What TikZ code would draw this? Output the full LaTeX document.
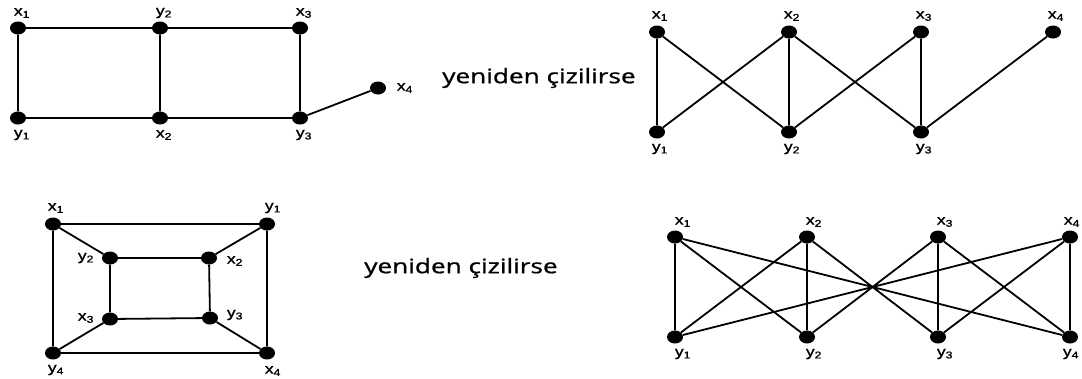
\documentclass[tikz,border=0pt]{standalone}
\usepackage{fontspec}
\setmainfont{Liberation Sans}
\newfontfamily\textfnt[FakeBold=0.8]{Open Sans}
\newfontfamily\lblfnt[FakeBold=1.2]{Liberation Sans}
\usetikzlibrary{shapes.geometric}
\begin{document}
\begin{tikzpicture}[x=1pt,y=-1pt,
  dot/.style={ellipse,fill=black,inner sep=0pt,minimum width=16pt,minimum height=13pt},
  lbl/.style={font=\lblfnt\fontsize{14}{15}\selectfont,inner sep=0pt,xscale=1.25},
  edge/.style={line width=1.8pt},
  captxt/.style={font=\textfnt\fontsize{20}{22}\selectfont,inner sep=0pt,xscale=1.31}]
\useasboundingbox (0,0) rectangle (1082,378);
\newcommand{\lab}[2]{#1\textsubscript{#2}}
% ---- top left
\node[dot] (a1) at (18,28) {};
\node[dot] (a2) at (160,28) {};
\node[dot] (a3) at (300,28) {};
\node[dot] (a4) at (18,118) {};
\node[dot] (a5) at (160,118) {};
\node[dot] (a6) at (300,118) {};
\node[dot] (a7) at (378,88) {};
\node[lbl] (la1) at (22,13) {\lab{x}{1}};
\node[lbl] (la2) at (164,13) {\lab{y}{2}};
\node[lbl] (la3) at (304,13) {\lab{x}{3}};
\node[lbl] (la4) at (22,135) {\lab{y}{1}};
\node[lbl] (la5) at (164,135) {\lab{x}{2}};
\node[lbl] (la6) at (304,135) {\lab{y}{3}};
\node[lbl] (la7) at (405,88) {\lab{x}{4}};
\draw[edge] (a1)--(a2) (a2)--(a3) (a1)--(a4) (a2)--(a5) (a3)--(a6)
  (a4)--(a5) (a5)--(a6) (a6)--(a7);
% ---- top right
\node[captxt] (c1) at (539,78) {yeniden çizilirse};
\node[dot] (b1) at (657,32) {};
\node[dot] (b2) at (789,32) {};
\node[dot] (b3) at (921,32) {};
\node[dot] (b4) at (1053,32) {};
\node[dot] (b5) at (657,132) {};
\node[dot] (b6) at (789,132) {};
\node[dot] (b7) at (921,132) {};
\node[lbl] (lb1) at (660,16) {\lab{x}{1}};
\node[lbl] (lb2) at (792,16) {\lab{x}{2}};
\node[lbl] (lb3) at (924,16) {\lab{x}{3}};
\node[lbl] (lb4) at (1056,16) {\lab{x}{4}};
\node[lbl] (lb5) at (660,149) {\lab{y}{1}};
\node[lbl] (lb6) at (792,149) {\lab{y}{2}};
\node[lbl] (lb7) at (924,149) {\lab{y}{3}};
\draw[edge] (b1)--(b5) (b1)--(b6) (b2)--(b5) (b2)--(b6) (b2)--(b7)
  (b3)--(b6) (b3)--(b7) (b4)--(b7);
% ---- bottom left
\node[dot] (d1) at (53,224) {};
\node[dot] (d2) at (267,224) {};
\node[dot] (d3) at (110,258) {};
\node[dot] (d4) at (209,258) {};
\node[dot] (d5) at (110,319) {};
\node[dot] (d6) at (210,318) {};
\node[dot] (d7) at (53,353) {};
\node[dot] (d8) at (267,353) {};
\node[lbl] (ld1) at (56,208) {\lab{x}{1}};
\node[lbl] (ld2) at (273,208) {\lab{y}{1}};
\node[lbl] (ld3) at (86,258) {\lab{y}{2}};
\node[lbl] (ld4) at (235,261) {\lab{x}{2}};
\node[lbl] (ld5) at (86,318) {\lab{x}{3}};
\node[lbl] (ld6) at (235,315) {\lab{y}{3}};
\node[lbl] (ld7) at (56,370) {\lab{y}{4}};
\node[lbl] (ld8) at (273,371) {\lab{x}{4}};
\draw[edge] (d1)--(d2) (d1)--(d3) (d1)--(d7) (d2)--(d4) (d2)--(d8)
  (d3)--(d4) (d3)--(d5) (d4)--(d6) (d5)--(d6) (d5)--(d7) (d6)--(d8) (d7)--(d8);
% ---- bottom right
\node[captxt] (c2) at (461,268) {yeniden çizilirse};
\node[dot] (e1) at (675,237) {};
\node[dot] (e2) at (807,237) {};
\node[dot] (e3) at (938,237) {};
\node[dot] (e4) at (1070,237) {};
\node[dot] (e5) at (675,337) {};
\node[dot] (e6) at (807,337) {};
\node[dot] (e7) at (938,337) {};
\node[dot] (e8) at (1070,337) {};
\node[lbl] (le1) at (683,222) {\lab{x}{1}};
\node[lbl] (le2) at (814,222) {\lab{x}{2}};
\node[lbl] (le3) at (945,222) {\lab{x}{3}};
\node[lbl] (le4) at (1072,222) {\lab{x}{4}};
\node[lbl] (le5) at (683,354) {\lab{y}{1}};
\node[lbl] (le6) at (814,354) {\lab{y}{2}};
\node[lbl] (le7) at (945,354) {\lab{y}{3}};
\node[lbl] (le8) at (1071,354) {\lab{y}{4}};
\draw[edge] (e1)--(e5) (e1)--(e6) (e1)--(e8)
  (e2)--(e5) (e2)--(e6) (e2)--(e7)
  (e3)--(e6) (e3)--(e7) (e3)--(e8)
  (e4)--(e5) (e4)--(e7) (e4)--(e8);
\end{tikzpicture}
\end{document}
